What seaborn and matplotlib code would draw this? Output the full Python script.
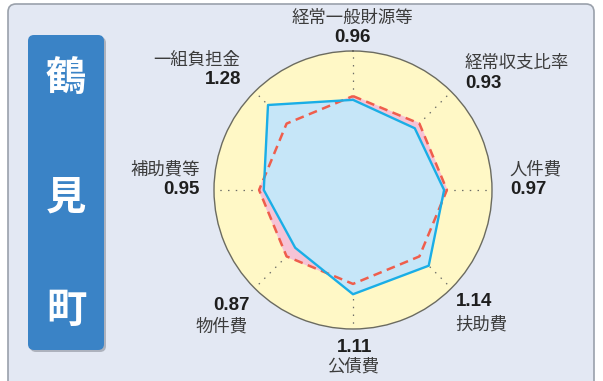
import numpy as np
import matplotlib
matplotlib.use("Agg")
import matplotlib.pyplot as plt
from matplotlib.patches import FancyBboxPatch
import seaborn as sns

# data
categories = ["経常一般財源等", "経常収支比率", "人件費", "扶助費",
              "公債費", "物件費", "補助費等", "一組負担金"]
values = [0.96, 0.93, 0.97, 1.14, 1.11, 0.87, 0.95, 1.28]
reference = [1.00, 1.00, 1.00, 1.00, 1.00, 1.00, 1.00, 1.00]
town = ["鶴", "見", "町"]

sns.set_theme(style="white")
plt.rcParams["font.family"] = ["Noto Sans CJK JP", "DejaVu Sans"]

W, H = 603, 381
fig = plt.figure(figsize=(W / 100, H / 100), dpi=100)
fig.patch.set_facecolor("white")

# background layer in pixel coords
bg = fig.add_axes([0, 0, 1, 1])
bg.set_xlim(0, W)
bg.set_ylim(H, 0)
bg.axis("off")
bg.add_patch(FancyBboxPatch((8, 4), 586, 400, boxstyle="round,pad=0,rounding_size=8",
                            fc="#e3e8f3", ec="#9aa1ab", lw=1.2))
bg.add_patch(FancyBboxPatch((30, 37), 76, 315, boxstyle="round,pad=0,rounding_size=6",
                            fc="#8a8f99", ec="none", alpha=0.6))
bg.add_patch(FancyBboxPatch((28, 35), 76, 315, boxstyle="round,pad=0,rounding_size=6",
                            fc="#3a83c6", ec="none"))
for ch, y in zip(town, [78, 198, 310]):
    bg.text(66, y, ch, color="white", fontsize=29, fontweight="bold",
            ha="center", va="center")

# radar
cx, cy, rad = 353, 190, 139
rmax = 1.48
ax = fig.add_axes([(cx - rad) / W, (H - cy - rad) / H, 2 * rad / W, 2 * rad / H],
                  projection="polar")
ax.set_theta_zero_location("N")
ax.set_theta_direction(-1)
ax.set_facecolor("#fff8c6")
ax.spines["polar"].set_color("#6b6b60")
ax.spines["polar"].set_linewidth(1.0)

theta = np.linspace(0, 2 * np.pi, len(categories), endpoint=False)
t_closed = np.append(theta, theta[0] + 2 * np.pi)
v_closed = np.append(values, values[0])
r_closed = np.append(reference, reference[0])

ax.fill(t_closed, r_closed, color="#f6c3d6", zorder=2)
ax.fill(t_closed, v_closed, color="#c6e6f8", zorder=3)
sns.lineplot(x=t_closed, y=r_closed, ax=ax, color="#ef5e4c", lw=1.8,
             dashes=False, sort=False, zorder=5).lines[-1].set_dashes((3.5, 2.2))
sns.lineplot(x=t_closed, y=v_closed, ax=ax, color="#1aaee6", lw=1.7,
             sort=False, zorder=6)

ax.set_ylim(0, rmax)
ax.set_yticks([])
ax.set_xticks(theta)
ax.set_xticklabels([])
ax.xaxis.grid(True, color="#6f6f68", lw=0.9, linestyle=(0, (1.2, 5)))
ax.yaxis.grid(False)
ax.set_xlabel("")
ax.set_ylabel("")
for gl in ax.xaxis.get_gridlines():
    gl.set_zorder(4)

# labels: (name xy, value xy, align, name first?)
lab_pos = [
    ((352, 18), (352, 37), "center", True),
    ((465, 63), (465, 83), "left", True),
    ((509, 170), (510, 190), "left", True),
    ((455, 325), (456, 302), "left", False),
    ((353, 367), (355, 347), "center", False),
    ((248, 327), (250, 305), "right", False),
    ((200, 170), (200, 190), "right", True),
    ((240, 60), (241, 80), "right", True),
]
for name, val, (npos, vpos, ha, _) in zip(categories, values, lab_pos):
    bg.text(npos[0], npos[1], name, fontsize=12.5, color="#3c3c3c",
            ha=ha, va="center")
    bg.text(vpos[0], vpos[1], f"{val:.2f}", fontsize=13.5, color="#1e1e1e",
            fontweight="bold", family="Liberation Sans", ha=ha, va="center")

fig.savefig("out.png", dpi=100)
